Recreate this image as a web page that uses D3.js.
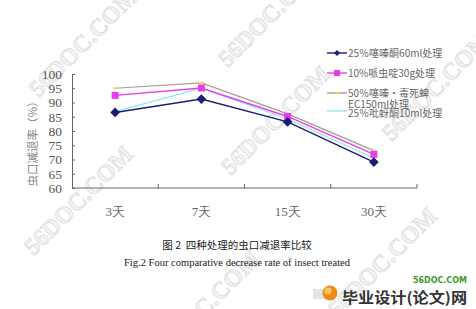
<!DOCTYPE html>
<html>
<head>
<meta charset="utf-8">
<script src="https://cdn.jsdelivr.net/npm/d3@7"></script>
<style>
  body { margin: 0; background: #fff; }
  svg { display: block; }
</style>
</head>
<body>
<script>
// categories and series
const days = ["3天", "7天", "15天", "30天"];
const s1 = [86.5, 91.2, 83.2, 69.1];   // 25％噻嗪酮60ml处理
const s2 = [92.5, 95.1, 85.1, 71.8];   // 10%哌虫啶30g处理
const s3 = [95.0, 96.9, 86.0, 73.1];   // 50％噻嗪·毒死蜱EC150ml处理
const s4 = [86.8, 95.0, 84.2, 70.5];   // 25％吡蚜酮10ml处理
const yTicks = [60, 65, 70, 75, 80, 85, 90, 95, 100];
const names = ["25％噻嗪酮60ml处理", "10%哌虫啶30g处理", "50％噻嗪·毒死蜱", "25％吡蚜酮10ml处理"];

const SERIF = "'Liberation Serif', 'DejaVu Serif', serif";
const CJK = "'Noto Sans CJK SC', sans-serif";

const svgWidth = 476, svgHeight = 309;
const margin = { left: 72, right: 59, top: 74, bottom: 121 };
const chartWidth = svgWidth - margin.left - margin.right;
const chartHeight = svgHeight - margin.top - margin.bottom;

const svg = d3.select("body").append("svg")
  .attr("width", svgWidth)
  .attr("height", svgHeight);

// watermarks behind everything
const marks = [[83, 42], [275, 120], [78, 200], [436, 86], [382, 262], [272, 12], [205, 305]];
svg.append("g").selectAll("text")
  .data(marks)
  .enter()
  .append("text")
  .attr("transform", d => `translate(${d[0]},${d[1]}) rotate(-45)`)
  .attr("text-anchor", "middle")
  .attr("dy", "0.35em")
  .style("font-family", SERIF)
  .style("font-size", "24px")
  .style("font-weight", "bold")
  .style("fill", "#f3f3f3")
  .style("stroke", "#dedede")
  .style("stroke-width", 0.8)
  .text("56DOC.COM");

const chartGroup = svg.append("g")
  .attr("transform", `translate(${margin.left}, ${margin.top})`);

const x = d3.scalePoint().domain(days).range([0, chartWidth]).padding(0.5);
const xBand = d3.scaleBand().domain(days).range([0, chartWidth]);
const y = d3.scaleLinear().domain([60, 100]).range([chartHeight, 0]);

// y axis, ticks pointing inward
const leftAxis = d3.axisLeft(y).tickValues(yTicks).tickSize(-3).tickPadding(10);
const gy = chartGroup.append("g").call(leftAxis);
gy.attr("font-family", null);
gy.select(".domain").attr("stroke", "#666");
gy.selectAll(".tick line").attr("stroke", "#666");
gy.selectAll(".tick text")
  .style("font-family", SERIF)
  .style("font-size", "13.5px")
  .style("fill", "#555");

// x axis line with band-boundary ticks
const gx = chartGroup.append("g").attr("transform", `translate(0, ${chartHeight})`);
gx.append("line").attr("x1", 0).attr("x2", chartWidth).attr("stroke", "#666");
gx.selectAll(".bt")
  .data(days.slice(1).concat(["end"]))
  .enter()
  .append("line")
  .attr("x1", (d, i) => i < 3 ? xBand(d) : chartWidth)
  .attr("x2", (d, i) => i < 3 ? xBand(d) : chartWidth)
  .attr("y1", 0).attr("y2", -4)
  .attr("stroke", "#666");
gx.selectAll(".xl")
  .data(days)
  .enter()
  .append("text")
  .attr("x", d => x(d))
  .attr("y", 28)
  .attr("text-anchor", "middle")
  .style("font-family", SERIF)
  .style("font-size", "13px")
  .style("fill", "#666")
  .text(d => d);

// y title
chartGroup.append("text")
  .attr("transform", `translate(${33 - margin.left}, ${141 - margin.top}) rotate(-90)`)
  .attr("text-anchor", "middle")
  .attr("dy", "0.35em")
  .style("font-family", CJK)
  .style("font-size", "11.5px")
  .style("fill", "#888")
  .text("虫口减退率（%）");

const line = d3.line().x((d, i) => x(days[i])).y(d => y(d));
const series = [
  { v: s3, c: "#a89c8c", w: 1.2 },
  { v: s4, c: "#8fe6f2", w: 1.2 },
  { v: s2, c: "#e83ee8", w: 1.4 },
  { v: s1, c: "#1c1c74", w: 1.4 }
];
series.forEach(s => {
  chartGroup.append("path")
    .datum(s.v)
    .attr("d", line)
    .attr("fill", "none")
    .attr("stroke", s.c)
    .attr("stroke-width", s.w);
});

// markers
chartGroup.selectAll(".m3").data(s3).enter().append("rect")
  .attr("x", (d, i) => x(days[i]) - 2).attr("y", d => y(d) - 1)
  .attr("width", 4).attr("height", 2).attr("fill", "#f5d640");
chartGroup.selectAll(".m2").data(s2).enter().append("rect")
  .attr("x", (d, i) => x(days[i]) - 3.5).attr("y", d => y(d) - 3.5)
  .attr("width", 7).attr("height", 7).attr("fill", "#e83ee8");
chartGroup.selectAll(".m1").data(s1).enter().append("path")
  .attr("d", d3.symbol(d3.symbolDiamond2, 60))
  .attr("transform", (d, i) => `translate(${x(days[i])},${y(d)})`)
  .attr("fill", "#1c1c74");

// legend
const leg = svg.append("g").attr("transform", "translate(327, 0)");
const legRows = [
  { y: 53, c: "#1c1c74", t: names[0], mk: "d" },
  { y: 73, c: "#e83ee8", t: names[1], mk: "s" },
  { y: 93, c: "#a89c8c", t: names[2], mk: "b" },
  { y: 111, c: "#8fe6f2", t: names[3], mk: "" }
];
legRows.forEach(r => {
  leg.append("line").attr("x1", 0).attr("x2", 20).attr("y1", r.y).attr("y2", r.y)
    .attr("stroke", r.c).attr("stroke-width", 1.4);
  if (r.mk === "d") leg.append("path").attr("d", d3.symbol(d3.symbolDiamond2, 24))
    .attr("transform", `translate(10,${r.y})`).attr("fill", r.c);
  if (r.mk === "s") leg.append("rect").attr("x", 7).attr("y", r.y - 3)
    .attr("width", 6).attr("height", 6).attr("fill", r.c);
  if (r.mk === "b") leg.append("rect").attr("x", 8).attr("y", r.y - 1)
    .attr("width", 4).attr("height", 2).attr("fill", "#f5d640");
  leg.append("text")
    .attr("x", 21).attr("y", r.y + 2 + (r.mk === "" ? 2 : 0))
    .attr("dy", "0.2em")
    .style("font-family", CJK)
    .style("font-size", "10px").style("fill", "#666")
    .text(r.t);
});
leg.append("text")
  .attr("x", 21).attr("y", 108)
  .style("font-family", CJK)
  .style("font-size", "10px").style("fill", "#666")
  .text("EC150ml处理");

// captions
svg.append("text")
  .attr("x", 237).attr("y", 249).attr("text-anchor", "middle")
  .style("font-family", CJK)
  .style("font-size", "10.5px").style("fill", "#222")
  .text("图 2\u00a0\u00a0四种处理的虫口减退率比较");
svg.append("text")
  .attr("x", 237).attr("y", 266).attr("text-anchor", "middle")
  .style("font-family", SERIF)
  .style("font-size", "10.5px").style("fill", "#222")
  .attr("textLength", 226).attr("lengthAdjust", "spacingAndGlyphs")
  .text("Fig.2 Four comparative decrease rate of insect treated");

// site logo bottom right
const logo = svg.append("g");
logo.append("rect").attr("x", 313).attr("y", 289).attr("width", 12).attr("height", 10)
  .attr("fill", "#e4e4e4");
logo.append("circle").attr("cx", 330).attr("cy", 293).attr("r", 7.5).attr("fill", "#ee8a1c");
logo.append("circle").attr("cx", 328).attr("cy", 291).attr("r", 3.5).attr("fill", "#f8c860");
logo.append("text").attr("x", 467).attr("y", 283).attr("text-anchor", "end")
  .style("font-family", "'DejaVu Sans', sans-serif").style("font-weight", "bold")
  .style("font-size", "8px").style("fill", "#3f9a2a")
  .text("56DOC.COM");
logo.append("text").attr("x", 342).attr("y", 303)
  .style("font-family", CJK)
  .style("font-size", "14.5px").style("font-weight", "bold").style("fill", "#333")
  .attr("textLength", 125).attr("lengthAdjust", "spacingAndGlyphs")
  .text("毕业设计(论文)网");
</script>
</body>
</html>
